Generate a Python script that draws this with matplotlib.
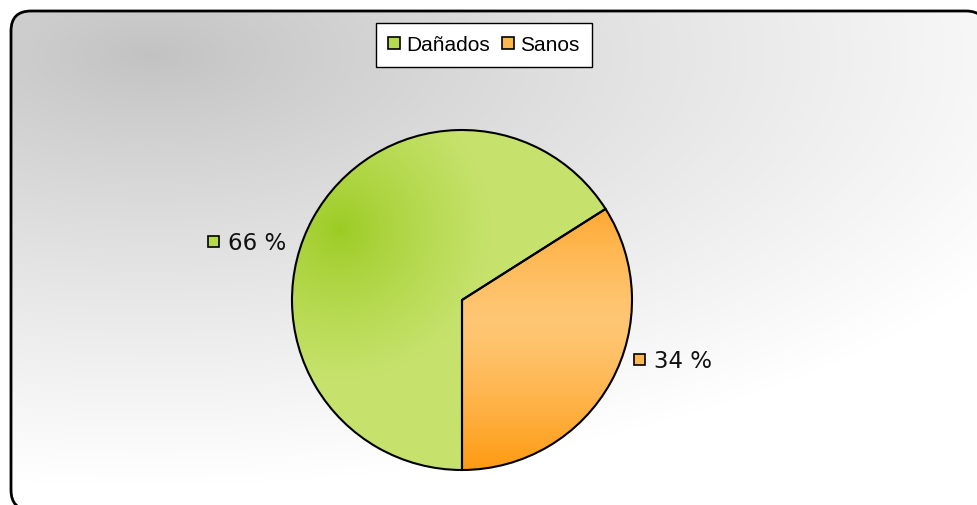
import numpy as np
import matplotlib
matplotlib.use("Agg")
import matplotlib.pyplot as plt
from matplotlib.patches import FancyBboxPatch, Rectangle, Polygon
from matplotlib.colors import to_rgb

# Data
categories = ["Dañados", "Sanos"]
values = [66, 34]
label_texts = [f"{v} %" for v in values]

W, H = 977, 506
fig = plt.figure(figsize=(W / 100, H / 100), dpi=100)

# Background panel with soft radial gray-to-white shading and a rounded frame
bg = fig.add_axes([0, 0, 1, 1])
bg.set_xlim(0, W)
bg.set_ylim(H, 0)
bg.axis("off")
yy, xx = np.mgrid[0:H, 0:W]
d = np.sqrt(((xx - 150) / 980.0) ** 2 + ((yy - 55) / 430.0) ** 2)
t = np.clip(d, 0, 1) ** 0.85
g = 0.76 + (1 - 0.76) * t
img = np.dstack([g, g, g])
im = bg.imshow(img, extent=(0, W, H, 0), zorder=0, interpolation="bilinear")

# Rounded outline, flattened to straight segments so it renders cleanly past the canvas edge
rounded = FancyBboxPatch((11, 12), 986 - 11, 511 - 12,
                         boxstyle="round,pad=0,rounding_size=20")
outline = rounded.get_path().to_polygons()[0]
frame = Polygon(outline, closed=True, fc="none", ec="black", lw=2, zorder=2,
                joinstyle="round")
bg.add_patch(frame)
im.set_clip_path(frame)

# Pie chart
R = 170
cx, cy = 462, 301
half = 200
pax = fig.add_axes([(cx - half) / W, (H - cy - half) / H, 2 * half / W, 2 * half / H])
wedges, _ = pax.pie(values, startangle=270, counterclock=False, radius=R,
                    center=(0, 0), colors=["none", "none"],
                    wedgeprops=dict(ec="black", lw=1.5, zorder=3))
pax.set_xlim(-half, half)
pax.set_ylim(-half, half)
pax.set_aspect("equal")
pax.axis("off")

def lerp(c1, c2, s):
    a = np.array(to_rgb(c1))
    b = np.array(to_rgb(c2))
    return a[None, None, :] * (1 - s[..., None]) + b[None, None, :] * s[..., None]

n = 400
py, px = np.mgrid[-R:R:n * 1j, -R:R:n * 1j]

# Green slice: radial shading, darker toward the upper left
dg = np.clip(np.sqrt((px + 122) ** 2 + (py - 71) ** 2) / 150.0, 0, 1) ** 0.8
green_img = lerp("#9BCB22", "#C6E26C", dg)
gi = pax.imshow(green_img, extent=(-R, R, -R, R), origin="lower", zorder=1,
                interpolation="bilinear")
gi.set_clip_path(wedges[0])

# Orange slice: vertical shading, light in the middle, deeper at both ends
do = np.clip(np.abs(py + 20) / 155.0, 0, 1) ** 1.4
orange_img = lerp("#FEC673", "#FF980C", do)
oi = pax.imshow(orange_img, extent=(-R, R, -R, R), origin="lower", zorder=1,
                interpolation="bilinear")
oi.set_clip_path(wedges[1])

# Data labels with small colour keys
key_colors = ["#B5DA4E", "#FDB650"]
label_pos = [(228, 244), (654, 362)]
for (x, y), txt, kc in zip(label_pos, label_texts, key_colors):
    bg.add_patch(Rectangle((x - 20, y - 7), 11, 11, fc=kc, ec="black", lw=1.2, zorder=4))
    bg.text(x, y, txt, fontsize=16.5, va="center", ha="left",
            family="DejaVu Sans", color="#111111", zorder=4)

# Legend
handles = [Rectangle((0, 0), 1, 1, fc=kc, ec="black", lw=1.2) for kc in key_colors]
leg = fig.legend(handles=handles, labels=categories, loc="upper center",
                 bbox_to_anchor=(484 / W, 1 - 24 / H), ncol=2, frameon=True,
                 fancybox=False, edgecolor="black", framealpha=1,
                 prop={"family": "Liberation Sans", "size": 15},
                 handlelength=0.55, handleheight=0.55, handletextpad=0.3,
                 columnspacing=0.6, borderpad=0.6, borderaxespad=0)
leg.get_frame().set_linewidth(1)

fig.savefig("out.png", dpi=100)
